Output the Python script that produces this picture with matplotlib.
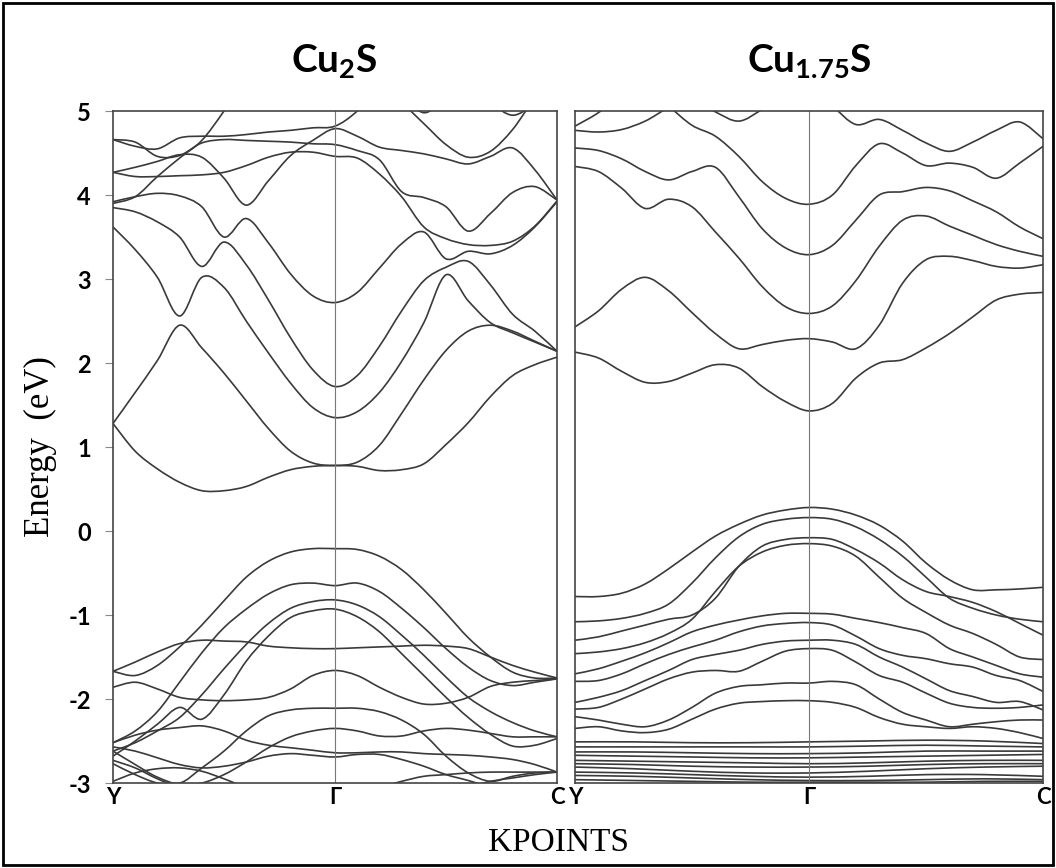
import numpy as np
import matplotlib
matplotlib.use("Agg")
import matplotlib.pyplot as plt
from matplotlib.patches import Rectangle, PathPatch
from matplotlib.path import Path

# k-path Y -> Gamma -> C
k_path = [0.0, 0.1, 0.2, 0.3, 0.4, 0.5, 0.6, 0.7, 0.8, 0.9, 1.0,
          1.1, 1.2, 1.3, 1.4, 1.5, 1.6, 1.7, 1.8, 1.9, 2.0]
k_coarse = [0.0, 0.25, 0.5, 0.75, 1.0, 1.25, 1.5, 1.75, 2.0]
k_ticks = [0, 1, 2]
k_labels = ['Y', 'Γ', 'C']
energy_ticks = [-3, -2, -1, 0, 1, 2, 3, 4, 5]

# ---- Cu2S bands (eV) ----
cu2s_t1 = [4.66, 4.58, 4.55, 4.68, 4.70, 4.70, 4.72, 4.75, 4.77, 4.80, 4.82, 5.00, 5.30, 5.10, 4.85, 4.60, 4.45, 4.52, 4.78, 5.15, 5.40]
cu2s_t2 = [4.66, 4.63, 4.46, 4.47, 4.62, 4.66, 4.65, 4.64, 4.63, 4.61, 4.60, 4.53, 4.42, 4.04, 3.97, 3.86, 3.57, 3.78, 4.03, 4.10, 3.94]
cu2s_t3 = [4.27, 4.33, 4.40, 4.48, 4.45, 4.20, 3.88, 4.17, 4.47, 4.65, 4.79, 4.70, 4.57, 4.53, 4.49, 4.43, 4.37, 4.46, 4.56, 4.30, 3.94]
cu2s_t4 = [4.27, 4.22, 4.22, 4.23, 4.24, 4.27, 4.35, 4.45, 4.51, 4.51, 4.46, 4.44, 4.25, 3.98, 3.62, 3.48, 3.41, 3.40, 3.45, 3.63, 3.93]
cu2s_u3 = [3.90, 3.98, 4.22, 4.44, 4.65, 5.00, 5.40, 5.60, 5.70, 5.70, 5.60, 5.50, 5.40, 5.20, 4.98, 5.15, 5.30, 5.10, 4.95, 5.08, 5.20]
cu2s_c5 = [3.92, 3.98, 4.02, 3.99, 3.86, 3.50, 3.72, 3.43, 3.06, 2.80, 2.72, 2.84, 3.13, 3.42, 3.56, 3.24, 3.33, 3.30, 3.40, 3.62, 3.92]
cu2s_c4 = [3.85, 3.80, 3.68, 3.50, 3.15, 3.44, 3.17, 2.75, 2.30, 1.92, 1.72, 1.85, 2.20, 2.62, 2.98, 3.14, 3.21, 2.93, 2.58, 2.38, 2.14]
cu2s_c3 = [3.62, 3.35, 3.02, 2.56, 3.02, 2.90, 2.50, 2.12, 1.76, 1.47, 1.35, 1.42, 1.65, 2.02, 2.48, 3.05, 2.74, 2.48, 2.36, 2.25, 2.14]
cu2s_c2 = [1.28, 1.65, 2.03, 2.45, 2.18, 1.88, 1.55, 1.22, 0.95, 0.81, 0.78, 0.82, 1.02, 1.40, 1.80, 2.15, 2.38, 2.45, 2.38, 2.26, 2.14]
cu2s_c1 = [1.28, 0.95, 0.74, 0.58, 0.48, 0.48, 0.53, 0.64, 0.73, 0.77, 0.78, 0.77, 0.72, 0.73, 0.80, 1.03, 1.29, 1.60, 1.85, 1.98, 2.07]
cu2s_f1 = [-1.67, -1.56, -1.44, -1.34, -1.30, -1.31, -1.32, -1.37, -1.39, -1.40, -1.40, -1.39, -1.38, -1.37, -1.36, -1.37, -1.40, -1.50, -1.60, -1.68, -1.75]
cu2s_v1 = [-1.67, -1.72, -1.60, -1.38, -1.12, -0.83, -0.55, -0.36, -0.25, -0.21, -0.21, -0.22, -0.30, -0.46, -0.70, -0.98, -1.27, -1.50, -1.68, -1.75, -1.75]
cu2s_v2 = [-2.52, -2.38, -2.15, -1.80, -1.45, -1.15, -0.93, -0.75, -0.64, -0.62, -0.65, -0.62, -0.72, -0.92, -1.15, -1.40, -1.62, -1.78, -1.84, -1.80, -1.76]
cu2s_v3a = [-2.62, -2.52, -2.38, -2.22, -1.95, -1.64, -1.35, -1.10, -0.92, -0.84, -0.82, -0.88, -1.02, -1.24, -1.48, -1.74, -1.98, -2.15, -2.28, -2.38, -2.45]
cu2s_v3b = [-2.68, -2.50, -2.30, -2.10, -2.24, -1.95, -1.55, -1.25, -1.03, -0.95, -0.93, -1.02, -1.20, -1.46, -1.72, -1.98, -2.22, -2.42, -2.56, -2.55, -2.47]
cu2s_v4 = [-1.86, -1.80, -1.88, -1.98, -2.01, -2.02, -2.01, -1.98, -1.88, -1.72, -1.66, -1.72, -1.86, -1.98, -2.06, -2.05, -1.98, -1.85, -1.80, -1.78, -1.76]
cu2s_v5 = [-2.62, -2.78, -2.93, -3.00, -2.82, -2.62, -2.38, -2.20, -2.13, -2.11, -2.11, -2.11, -2.15, -2.25, -2.42, -2.68, -2.88, -2.98, -2.92, -2.88, -2.87]
cu2s_v6 = [-2.77, -2.90, -3.00, -3.02, -3.00, -2.90, -2.75, -2.58, -2.45, -2.38, -2.35, -2.38, -2.44, -2.44, -2.38, -2.35, -2.37, -2.41, -2.45, -2.45, -2.45]
cu2s_v7 = [-2.52, -2.43, -2.37, -2.34, -2.32, -2.38, -2.49, -2.55, -2.58, -2.61, -2.64, -2.64, -2.63, -2.63, -2.65, -2.66, -2.67, -2.69, -2.72, -2.78, -2.87]
cu2s_v8 = [-2.57, -2.62, -2.70, -2.78, -2.82, -2.80, -2.75, -2.68, -2.65, -2.67, -2.69, -2.66, -2.66, -2.72, -2.80, -2.90, -2.97, -3.05, -3.10, -3.10, -3.10]
cu2s_b1 = [-2.73, -2.82, -2.95, -3.05, -3.10, -3.10, -3.10, -3.10, -3.10, -3.10, -3.10, -3.10, -3.05, -2.98, -2.92, -2.90, -2.88, -2.87, -2.87, -2.87, -2.87]
cu2s_b2 = [-2.98, -2.88, -2.83, -2.82, -2.86, -2.95, -3.05, -3.10, -3.10, -3.10, -3.10, -3.10, -3.10, -3.10, -3.10, -3.10, -3.05, -2.98, -2.94, -2.90, -2.87]

cu2s_bands = [cu2s_t1, cu2s_t2, cu2s_t3, cu2s_t4, cu2s_u3, cu2s_c5, cu2s_c4,
              cu2s_c3, cu2s_c2, cu2s_c1, cu2s_f1, cu2s_v1, cu2s_v2, cu2s_v3a,
              cu2s_v3b, cu2s_v4, cu2s_v5, cu2s_v6, cu2s_v7, cu2s_v8,
              cu2s_b1, cu2s_b2]

# ---- Cu1.75S bands (eV) ----
cu175_r1 = [2.13, 2.06, 1.90, 1.77, 1.78, 1.88, 1.98, 1.94, 1.72, 1.54, 1.43, 1.52, 1.82, 2.00, 2.04, 2.18, 2.35, 2.55, 2.75, 2.82, 2.84]
cu175_r2 = [2.43, 2.62, 2.88, 3.02, 2.86, 2.60, 2.35, 2.17, 2.22, 2.27, 2.29, 2.25, 2.17, 2.45, 2.95, 3.23, 3.27, 3.22, 3.15, 3.13, 3.17]
cu175_r3 = [4.34, 4.28, 4.08, 3.84, 3.95, 3.86, 3.56, 3.25, 2.91, 2.67, 2.59, 2.68, 2.98, 3.39, 3.70, 3.75, 3.63, 3.52, 3.41, 3.33, 3.27]
cu175_r4 = [4.56, 4.53, 4.43, 4.28, 4.18, 4.28, 4.33, 3.98, 3.60, 3.37, 3.29, 3.40, 3.70, 4.00, 4.04, 4.09, 4.05, 3.93, 3.80, 3.62, 3.48]
cu175_r5 = [4.82, 4.98, 5.20, 5.30, 5.06, 4.83, 4.70, 4.46, 4.16, 3.96, 3.89, 4.00, 4.35, 4.61, 4.50, 4.35, 4.38, 4.33, 4.20, 4.38, 4.58]
cu175_r6 = [4.77, 4.75, 4.78, 4.88, 5.04, 5.15, 4.99, 4.88, 5.02, 5.20, 5.30, 5.06, 4.84, 4.90, 4.77, 4.62, 4.52, 4.63, 4.77, 4.87, 4.67]
cu175_w1 = [-0.78, -0.78, -0.74, -0.63, -0.45, -0.25, -0.06, 0.08, 0.19, 0.25, 0.28, 0.26, 0.19, 0.07, -0.12, -0.38, -0.58, -0.70, -0.70, -0.69, -0.67]
cu175_w2 = [-1.08, -1.07, -1.04, -0.98, -0.87, -0.62, -0.32, -0.07, 0.08, 0.14, 0.16, 0.14, 0.05, -0.10, -0.30, -0.55, -0.80, -0.92, -1.00, -1.05, -1.08]
cu175_w3 = [-1.30, -1.26, -1.19, -1.12, -1.05, -1.00, -0.80, -0.42, -0.18, -0.10, -0.08, -0.10, -0.22, -0.38, -0.58, -0.72, -0.78, -0.85, -0.96, -1.10, -1.24]
cu175_w4 = [-1.46, -1.44, -1.40, -1.33, -1.22, -1.05, -0.72, -0.42, -0.25, -0.17, -0.15, -0.18, -0.30, -0.55, -0.80, -0.97, -1.12, -1.22, -1.35, -1.50, -1.53]
cu175_w5 = [-1.70, -1.64, -1.55, -1.45, -1.33, -1.20, -1.12, -1.06, -1.01, -0.98, -0.98, -0.99, -1.04, -1.09, -1.15, -1.22, -1.40, -1.50, -1.60, -1.70, -1.74]
cu175_w6 = [-1.79, -1.78, -1.70, -1.58, -1.47, -1.38, -1.30, -1.20, -1.13, -1.10, -1.09, -1.12, -1.25, -1.40, -1.48, -1.52, -1.58, -1.62, -1.72, -1.78, -1.91]
cu175_w7 = [-2.04, -1.98, -1.90, -1.78, -1.66, -1.53, -1.47, -1.42, -1.35, -1.31, -1.30, -1.30, -1.35, -1.50, -1.62, -1.76, -1.90, -1.97, -2.04, -2.03, -2.13]
cu175_w8 = [-2.12, -2.10, -2.00, -1.88, -1.76, -1.68, -1.66, -1.67, -1.55, -1.43, -1.40, -1.42, -1.56, -1.72, -1.80, -1.93, -2.05, -2.10, -2.11, -2.10, -2.07]
cu175_w9 = [-2.21, -2.25, -2.30, -2.33, -2.25, -2.10, -1.93, -1.85, -1.83, -1.81, -1.81, -1.79, -1.83, -2.00, -2.16, -2.25, -2.33, -2.30, -2.27, -2.25, -2.25]
cu175_w10 = [-2.35, -2.33, -2.38, -2.40, -2.36, -2.24, -2.12, -2.05, -2.03, -2.02, -2.02, -2.04, -2.10, -2.22, -2.30, -2.33, -2.35, -2.33, -2.35, -2.40, -2.47]

cu175_bands = [cu175_r1, cu175_r2, cu175_r3, cu175_r4, cu175_r5, cu175_r6,
               cu175_w1, cu175_w2, cu175_w3, cu175_w4, cu175_w5, cu175_w6,
               cu175_w7, cu175_w8, cu175_w9, cu175_w10]

# nearly flat deep bands of Cu1.75S (on k_coarse)
cu175_p1 = [-2.51, -2.51, -2.52, -2.52, -2.51, -2.50, -2.49, -2.50, -2.53]
cu175_p2 = [-2.57, -2.57, -2.57, -2.57, -2.57, -2.56, -2.55, -2.56, -2.57]
cu175_p3 = [-2.63, -2.63, -2.64, -2.65, -2.65, -2.64, -2.62, -2.62, -2.62]
cu175_p4 = [-2.67, -2.68, -2.69, -2.70, -2.70, -2.69, -2.68, -2.67, -2.66]
cu175_p5 = [-2.73, -2.74, -2.75, -2.76, -2.77, -2.76, -2.74, -2.73, -2.73]
cu175_p6 = [-2.77, -2.78, -2.80, -2.81, -2.81, -2.80, -2.78, -2.77, -2.77]
cu175_p7 = [-2.81, -2.83, -2.86, -2.88, -2.88, -2.86, -2.83, -2.81, -2.80]
cu175_p8 = [-2.87, -2.88, -2.90, -2.92, -2.93, -2.92, -2.90, -2.90, -2.92]
cu175_p9 = [-2.91, -2.92, -2.94, -2.96, -2.97, -2.97, -2.96, -2.95, -2.96]
cu175_p10 = [-2.96, -2.97, -2.98, -2.99, -2.99, -2.99, -2.99, -2.98, -2.98]

cu175_flat = [cu175_p1, cu175_p2, cu175_p3, cu175_p4, cu175_p5,
              cu175_p6, cu175_p7, cu175_p8, cu175_p9, cu175_p10]

band_color = '#3a3a3a'
plt.rcParams['mathtext.fontset'] = 'custom'
plt.rcParams['mathtext.rm'] = 'Lato:bold'
plt.rcParams['mathtext.it'] = 'Lato:bold'
plt.rcParams['mathtext.bf'] = 'Lato:bold'

fig = plt.figure(figsize=(10.56, 8.68), dpi=100)
ax1 = fig.add_axes([0.1070, 0.0979, 0.4205, 0.7742])
ax2 = fig.add_axes([0.5445, 0.0979, 0.4432, 0.7742])


def band_path(xs, ys):
    # smooth curve through the read points (Catmull-Rom as cubic bezier)
    n = len(xs)
    verts = [(xs[0], ys[0])]
    codes = [Path.MOVETO]
    for i in range(n - 1):
        a = max(i - 1, 0)
        d = min(i + 2, n - 1)
        c1 = (xs[i] + (xs[i + 1] - xs[a]) / 6, ys[i] + (ys[i + 1] - ys[a]) / 6)
        c2 = (xs[i + 1] - (xs[d] - xs[i]) / 6, ys[i + 1] - (ys[d] - ys[i]) / 6)
        verts += [c1, c2, (xs[i + 1], ys[i + 1])]
        codes += [Path.CURVE4] * 3
    return Path(verts, codes)


def draw_panel(ax, bands, flat=None):
    for b in bands:
        ax.add_patch(PathPatch(band_path(k_path, b), fill=False,
                               ec=band_color, lw=1.2))
    if flat:
        for b in flat:
            ax.add_patch(PathPatch(band_path(k_coarse, b), fill=False,
                                   ec=band_color, lw=1.2))
    ax.axvline(1.0, color='#777777', lw=0.8)
    ax.set_xlim(0, 2)
    ax.set_ylim(-3, 5)
    ax.set_xticks(k_ticks)
    ax.set_xticklabels(k_labels, fontsize=16, fontweight='bold', family='Lato')
    ax.tick_params(axis='x', length=0, pad=3)
    for s in ax.spines.values():
        s.set_color('#444444')
        s.set_linewidth(1.2)


draw_panel(ax1, cu2s_bands)
draw_panel(ax2, cu175_bands, cu175_flat)

ax1.set_yticks(energy_ticks)
ax1.set_yticklabels([str(v) for v in energy_ticks], fontsize=17,
                    fontweight='bold', family='Lato')
ax1.tick_params(axis='y', direction='out', length=6, width=0.8,
                color='#888888', pad=10)
ax2.set_yticks([])

fig.text(0.317, 0.930, r'Cu$_2$S', ha='center', va='center',
         fontsize=28, fontweight='bold', family='Lato')
fig.text(0.766, 0.930, r'Cu$_{1.75}$S', ha='center', va='center',
         fontsize=28, fontweight='bold', family='Lato')

fig.text(0.038, 0.485, 'Energy  (eV)', rotation=90, ha='center', va='center',
         fontsize=25, family='Liberation Serif')
fig.text(0.529, 0.029, 'KPOINTS', ha='center', va='center',
         fontsize=24, family='Liberation Serif')

fig.patches.append(Rectangle((0.003, 0.003), 0.994, 0.993, transform=fig.transFigure,
                             fill=False, lw=2, ec='black'))

fig.savefig('out.png', dpi=100)
